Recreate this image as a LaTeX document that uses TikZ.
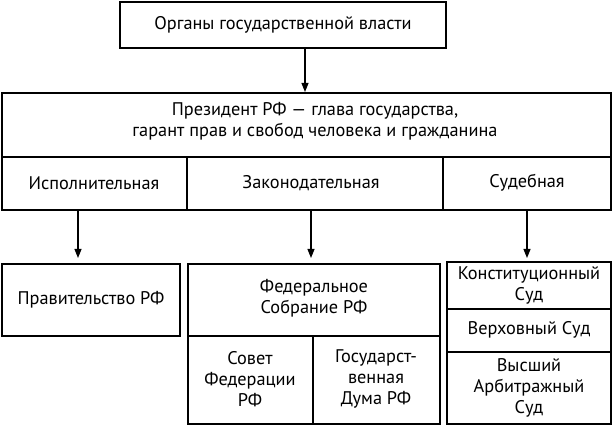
\documentclass[tikz,border=0pt]{standalone}
\usepackage{fontspec}
\setmainfont{PT Sans}
\usetikzlibrary{arrows.meta}
\begin{document}
\begin{tikzpicture}[x=1pt,y=-1pt,line width=1.1pt,
  txt/.style={font=\fontsize{18.3}{21}\selectfont,align=center},
  arr/.style={-{Triangle[length=9pt,width=7pt]}}]
\useasboundingbox (0,0) rectangle (613,427);
\draw (120,2) rectangle (446,48);
\node[txt] (org) at (283,25) {Органы государственной власти};
\draw (2,93) rectangle (611,210);
\draw (2,157) -- (611,157);
\draw (187,157) -- (187,210);
\draw (443,157) -- (443,210);
\node[txt] (pres) at (315,121) {Президент РФ — глава государства,\\гарант прав и свобод человека и гражданина};
\node[txt] (isp) at (94,183) {Исполнительная};
\node[txt] (zak) at (311,183) {Законодательная};
\node[txt] (sud) at (527,183) {Судебная};
\coordinate (a0) at (305,48); \coordinate (a1) at (305,92);
\draw[arr] (a0) -- (a1);
\draw (2,264) rectangle (180,336);
\node[txt] (prav) at (91,300) {Правительство РФ};
\draw (188,264) rectangle (440,424);
\draw (188,336) -- (440,336);
\draw (313,336) -- (313,424);
\node[txt] (fs) at (314,298) {Федеральное\\Собрание РФ};
\node[txt] (sf) at (250,379) {Совет\\Федерации\\РФ};
\node[txt] (gd) at (376,379) {Государст-\\венная\\Дума РФ};
\draw (447,262) rectangle (611,424);
\draw (447,309) -- (611,309);
\draw (447,352) -- (611,352);
\node[txt] (ks) at (529,285) {Конституционный\\Суд};
\node[txt] (vs) at (529,330) {Верховный Суд};
\node[txt] (as) at (529,388) {Высший\\Арбитражный\\Суд};
\coordinate (b0) at (78,210); \coordinate (b1) at (78,258);
\coordinate (c0) at (311,210); \coordinate (c1) at (311,258);
\coordinate (d0) at (527,210); \coordinate (d1) at (527,258);
\draw[arr] (b0) -- (b1);
\draw[arr] (c0) -- (c1);
\draw[arr] (d0) -- (d1);
\end{tikzpicture}
\end{document}
